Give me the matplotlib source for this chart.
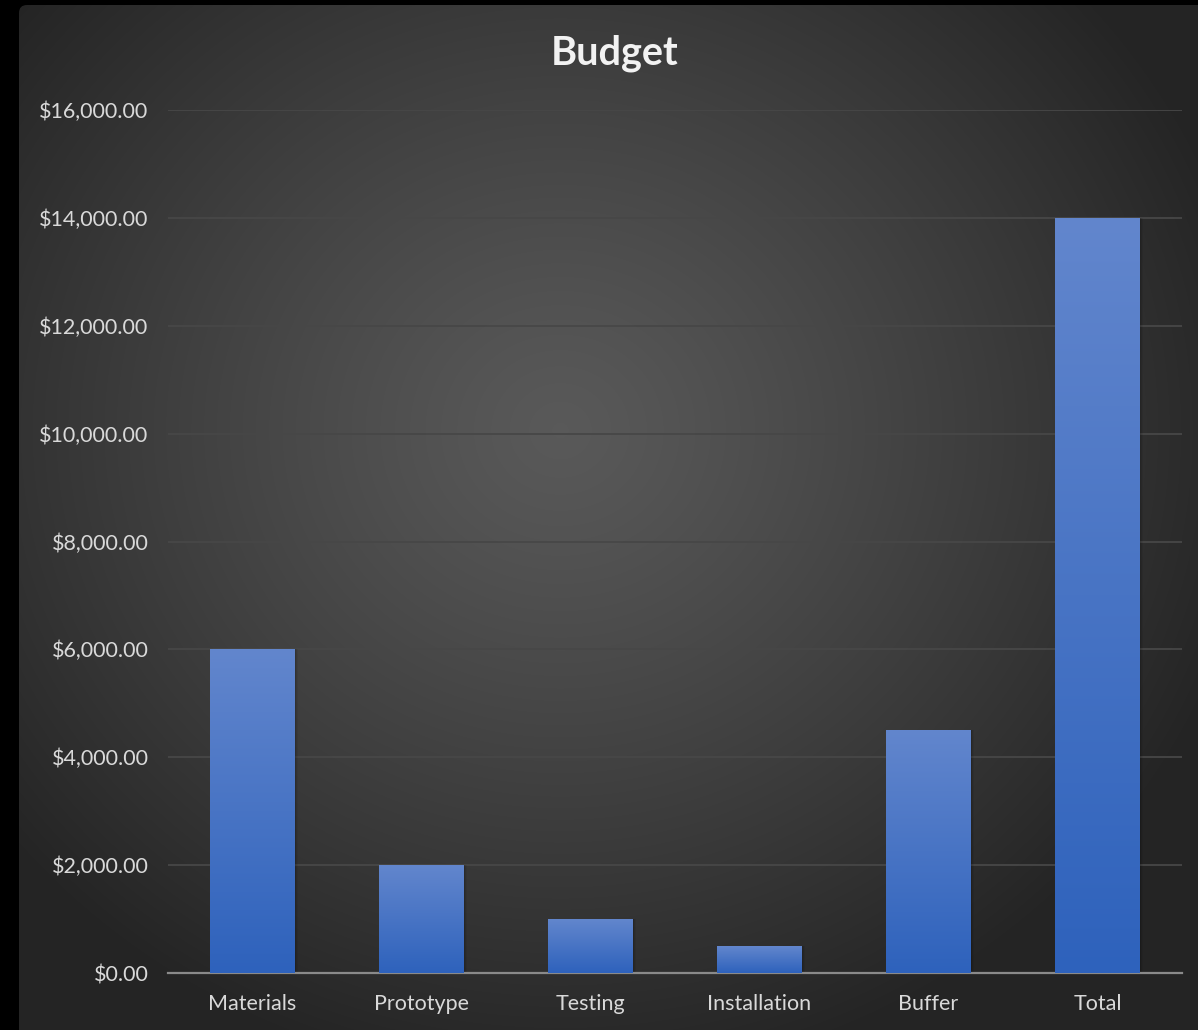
import numpy as np
import matplotlib.pyplot as plt
from matplotlib.patches import FancyBboxPatch
from matplotlib.ticker import FuncFormatter

categorias = ["Materials", "Prototype", "Testing", "Installation", "Buffer", "Total"]
valores = [6000, 2000, 1000, 500, 4500, 14000]
titulo = "Budget"

W, H = 1198, 1030
plt.rcParams['font.family'] = ['Lato', 'DejaVu Sans']

fig = plt.figure(figsize=(W / 100, H / 100), dpi=100)
fig.patch.set_facecolor('black')

# fondo con degradado radial
bg = fig.add_axes([0, 0, 1, 1])
bg.set_xlim(0, W)
bg.set_ylim(H, 0)
bg.axis('off')
yy, xx = np.mgrid[0:H, 0:W]
r = np.sqrt(((xx - 560) / 700.0) ** 2 + ((yy - 430) / 650.0) ** 2)
r = np.clip(r, 0, 1)
c0, c1 = 0.35, 0.145
gris = c0 + (c1 - c0) * r ** 1.2
img = np.dstack([gris, gris, gris])
im = bg.imshow(img, extent=(0, W, H, 0), zorder=0)
marco = FancyBboxPatch((19, 5), W + 40, H + 40, boxstyle="round,pad=0,rounding_size=8",
                       transform=bg.transData, facecolor='none', edgecolor='none')
bg.add_patch(marco)
im.set_clip_path(marco)

# área del gráfico
x0, x1 = 168, 1182
y_top, y_bot = 110, 973
ax = fig.add_axes([x0 / W, 1 - y_bot / H, (x1 - x0) / W, (y_bot - y_top) / H])
ax.set_facecolor('none')
ax.set_ylim(0, 16000)
ax.set_xlim(-0.5, len(categorias) - 0.5)
ax.set_yticks(np.arange(0, 16001, 2000))
ax.yaxis.set_major_formatter(FuncFormatter(lambda v, p: f"${v:,.2f}"))
ax.grid(axis='y', color='#474747', linewidth=1.3)
ax.set_axisbelow(True)
for s in ['top', 'right', 'left']:
    ax.spines[s].set_visible(False)
ax.spines['bottom'].set_color('#8a8a8a')
ax.spines['bottom'].set_linewidth(1.6)
ax.tick_params(axis='both', length=0, colors='#d9d9d9', labelsize=15.5)
ax.tick_params(axis='y', pad=14)
ax.tick_params(axis='x', pad=15)
ax.set_xticks(range(len(categorias)))
ax.set_xticklabels(categorias)

barras = ax.bar(range(len(categorias)), valores, width=0.5, color='none', zorder=3)
grad = np.linspace(0, 1, 256).reshape(-1, 1)
top = np.array([0x62, 0x86, 0xcd]) / 255
bot = np.array([0x2e, 0x62, 0xbc]) / 255
colores = (top * (1 - grad[..., None]) + bot * grad[..., None])
for b in barras:
    bx, by = b.get_x(), b.get_y()
    bw, bh = b.get_width(), b.get_height()
    # sombra suave
    for k, a in [(0.006, 0.10), (0.012, 0.07), (0.018, 0.05)]:
        ax.bar(bx + bw / 2 + k, bh, width=bw, bottom=0, color='black', alpha=a, zorder=2)
    g = ax.imshow(colores, extent=(bx, bx + bw, by, by + bh), aspect='auto', zorder=4,
                  origin='upper')
    g.set_clip_path(b)
ax.set_xlim(-0.5, len(categorias) - 0.5)
ax.set_ylim(0, 16000)

fig.text(615 / W, 1 - 53 / H, titulo, ha='center', va='center', color='#f2f2f2',
         fontsize=28.5, fontweight='bold')

fig.savefig('out.png', dpi=100, facecolor=fig.get_facecolor())
